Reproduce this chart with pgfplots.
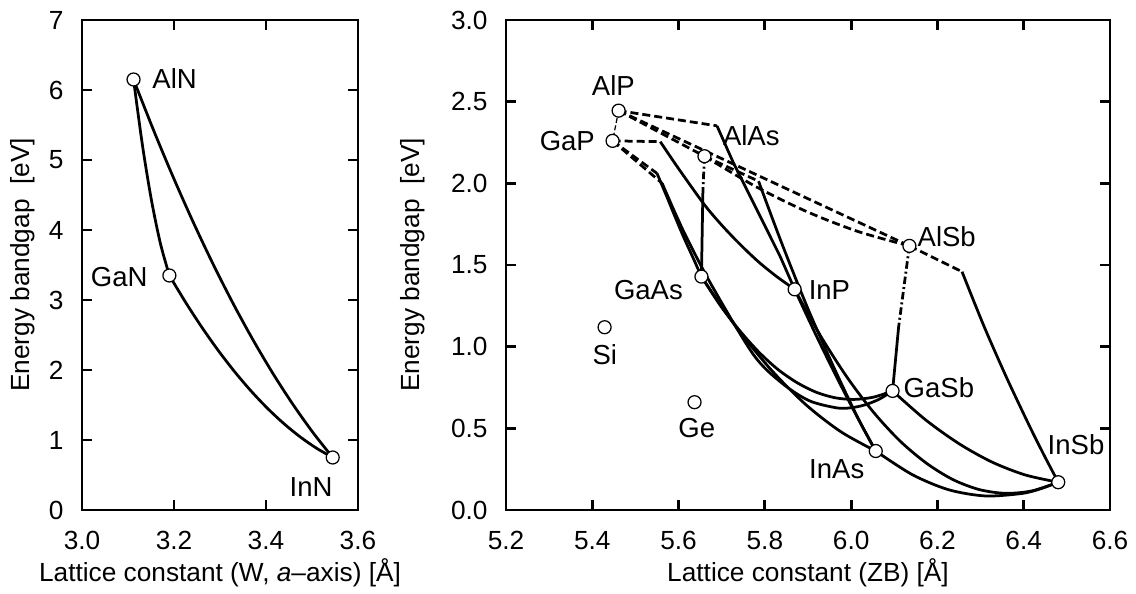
\documentclass[border=0pt]{standalone}
\usepackage{fontspec}
\setmainfont{Liberation Sans}
\usepackage{pgfplots}
\pgfplotsset{compat=1.18}
\tikzset{lab/.style={inner sep=0pt, font=\fontsize{11}{13}\selectfont}}
\begin{document}
\fontsize{10.5}{12.6}\selectfont
\begin{tikzpicture}[font=\fontsize{10.5}{12.6}\selectfont]
\useasboundingbox (0,0) rectangle (454.4pt,237.6pt);
\pgfplotsset{
 base/.style={scale only axis, height=196pt, anchor=south west,
   axis line style={line width=1.1pt}, tick style={black, line width=1.1pt}, major tick length=4pt,
   tick align=inside,
   /pgf/number format/assume math mode=true,
   yticklabel style={xshift=-3.7pt},
   xticklabel style={yshift=-4.7pt},
   xlabel style={at={(axis description cs:0.5,-0.1286)}, anchor=center},
   clip=false},
 dir/.style={black, line width=1.1pt},
 ind/.style={black, line width=1.1pt, dash pattern=on 3.2pt off 1.6pt},
 inddot/.style={black, line width=1.1pt, dash pattern=on 3pt off 1.2pt on 0.8pt off 1.2pt},
 pts/.style={only marks, mark=*, mark size=2.6pt, mark options={fill=white, draw=black, line width=0.5pt, solid}}
}
% ---------------- left: nitrides ----------------
\begin{axis}[base, at={(32.8pt,33.6pt)}, width=110.4pt,
  xmin=3.0, xmax=3.6, ymin=0, ymax=7,
  xtick={3.0,3.2,3.4,3.6}, ytick={0,1,2,3,4,5,6,7},
  x tick label style={/pgf/number format/fixed, /pgf/number format/fixed zerofill, /pgf/number format/precision=1},
  xlabel={Lattice constant (W, \textit{a}–axis) [Å]},
  ylabel={Energy bandgap~~[eV]},
  ylabel style={at={(axis description cs:-0.2156,0.5)}, anchor=center}]
\addplot[dir, smooth] coordinates {(3.112,6.15) (3.1315,5.206) (3.151,4.425) (3.1705,3.806) (3.19,3.35)};
\addplot[dir, smooth] coordinates {(3.19,3.35) (3.2255,2.964) (3.261,2.606) (3.2965,2.276) (3.332,1.974) (3.3675,1.70) (3.403,1.454) (3.4385,1.236) (3.474,1.046) (3.5095,0.884) (3.545,0.75)};
\addplot[dir, smooth] coordinates {(3.112,6.15) (3.1553,5.43) (3.1986,4.75) (3.2419,4.11) (3.2852,3.51) (3.3285,2.95) (3.3718,2.43) (3.4151,1.95) (3.4584,1.51) (3.5017,1.11) (3.545,0.75)};
\addplot[pts] coordinates {(3.112,6.15) (3.19,3.35) (3.545,0.75)};
\node[lab, anchor=west] at (axis cs:3.152,6.17) {AlN};
\node[lab, anchor=east] at (axis cs:3.1435,3.33) {GaN};
\node[lab, anchor=east] at (axis cs:3.5457,0.33) {InN};
\end{axis}
% ---------------- right: zinc blende ----------------
\begin{axis}[base, at={(202.4pt,33.6pt)}, width=241.6pt,
  xmin=5.2, xmax=6.6, ymin=0, ymax=3,
  xtick={5.2,5.4,5.6,5.8,6.0,6.2,6.4,6.6}, ytick={0,0.5,1,1.5,2,2.5,3},
  x tick label style={/pgf/number format/fixed, /pgf/number format/fixed zerofill, /pgf/number format/precision=1},
  y tick label style={/pgf/number format/fixed, /pgf/number format/fixed zerofill, /pgf/number format/precision=1},
  xlabel={Lattice constant (ZB) [Å]},
  ylabel={Energy bandgap~~[eV]},
  ylabel style={at={(axis description cs:-0.154,0.5)}, anchor=center}]
% AlGaP
\addplot[black, line width=0.5pt, dash pattern=on 2pt off 1pt] coordinates {(5.461,2.445) (5.447,2.26)};
% AlPAs
\addplot[ind] coordinates {(5.461,2.445) (5.66,2.166)};
% AlPSb
\addplot[ind] coordinates {(5.461,2.445) (6.135,1.617)};
% AlAsSb
\addplot[ind, smooth] coordinates {(5.66,2.166) (5.779,1.980) (5.8975,1.8265) (6.016,1.705) (6.135,1.617)};
% AlInP
\addplot[ind] coordinates {(5.461,2.445) (5.689,2.352)};
\addplot[dir] coordinates {(5.689,2.352) (5.7275,2.123) (5.7817,1.837) (5.8357,1.551) (5.869,1.351)};
% GaInP
\addplot[ind] coordinates {(5.447,2.26) (5.5576,2.255)};
\addplot[dir, smooth] coordinates {(5.5576,2.255) (5.60,2.09) (5.6596,1.87) (5.7014,1.74) (5.743,1.625) (5.785,1.52) (5.827,1.43) (5.869,1.351)};
% GaPAs
\addplot[ind] coordinates {(5.447,2.26) (5.55,2.061)};
\addplot[dir, smooth] coordinates {(5.55,2.061) (5.572,1.923) (5.592,1.794) (5.612,1.669) (5.633,1.547) (5.653,1.429)};
% GaPSb
\addplot[ind] coordinates {(5.447,2.26) (5.562,2.0)};
\addplot[dir, smooth] coordinates {(5.562,2.0) (5.612,1.704) (5.676,1.379) (5.773,0.953) (5.838,0.780) (5.902,0.670) (5.967,0.625) (6.0,0.626) (6.031,0.643) (6.064,0.677) (6.096,0.729)};
% AlGaAs
\addplot[inddot] coordinates {(5.66,2.166) (5.6565,1.97)};
\addplot[dir] coordinates {(5.6565,1.97) (5.653,1.429)};
% AlInAs
\addplot[ind] coordinates {(5.66,2.166) (5.7854,2.013)};
\addplot[dir, smooth] coordinates {(5.7854,2.013) (5.8387,1.636) (5.898,1.244) (5.958,0.884) (6.017,0.556) (6.057,0.361)};
% InPAs
\addplot[dir, smooth] coordinates {(5.869,1.351) (5.916,1.085) (5.963,0.831) (6.01,0.590) (6.057,0.361)};
% InPSb
\addplot[dir, smooth] coordinates {(5.869,1.351) (5.930,1.062) (5.991,0.811) (6.052,0.598) (6.113,0.423) (6.175,0.2855) (6.236,0.186) (6.297,0.125) (6.358,0.102) (6.419,0.117) (6.48,0.17)};
% InAsSb
\addplot[dir, smooth] coordinates {(6.057,0.361) (6.142,0.216) (6.226,0.124) (6.311,0.086) (6.395,0.101) (6.438,0.129) (6.48,0.17)};
% GaInSb
\addplot[dir, smooth] coordinates {(6.096,0.729) (6.173,0.551) (6.250,0.406) (6.326,0.294) (6.403,0.215) (6.48,0.17)};
% GaAsSb
\addplot[dir, smooth] coordinates {(5.653,1.429) (5.697,1.251) (5.742,1.097) (5.786,0.967) (5.830,0.861) (5.875,0.779) (5.919,0.721) (5.963,0.687) (6.007,0.677) (6.052,0.691) (6.096,0.729)};
% GaInAs
\addplot[dir, smooth] coordinates {(5.653,1.429) (5.7338,1.119) (5.8146,0.858) (5.8954,0.644) (5.9762,0.479) (6.057,0.361)};
% AlGaSb
\addplot[inddot] coordinates {(6.135,1.617) (6.11,1.12)};
\addplot[dir] coordinates {(6.11,1.12) (6.096,0.729)};
% AlInSb
\addplot[ind] coordinates {(6.135,1.617) (6.257,1.459)};
\addplot[dir, smooth] coordinates {(6.257,1.459) (6.3075,1.1275) (6.359,0.818) (6.411,0.527) (6.4455,0.344) (6.48,0.17)};
% binaries and elements
\addplot[pts] coordinates {(5.461,2.445) (5.447,2.26) (5.66,2.166) (6.135,1.617) (5.653,1.429) (5.869,1.351) (6.096,0.729) (6.057,0.361) (6.48,0.17) (5.4285,1.119) (5.637,0.66)};
\node[lab] at (axis cs:5.4487,2.596) {AlP};
\node[lab, anchor=east] at (axis cs:5.407,2.26) {GaP};
\node[lab] at (axis cs:5.7685,2.29) {AlAs};
\node[lab, anchor=west] at (axis cs:6.153,1.671) {AlSb};
\node[lab, anchor=east] at (axis cs:5.611,1.347) {GaAs};
\node[lab, anchor=west] at (axis cs:5.9006,1.347) {InP};
\node[lab] at (axis cs:5.429,0.949) {Si};
\node[lab] at (axis cs:5.642,0.502) {Ge};
\node[lab, anchor=west] at (axis cs:6.1207,0.747) {GaSb};
\node[lab] at (axis cs:5.9666,0.251) {InAs};
\node[lab, anchor=west] at (axis cs:6.4545,0.398) {InSb};
\end{axis}
\end{tikzpicture}
\end{document}
